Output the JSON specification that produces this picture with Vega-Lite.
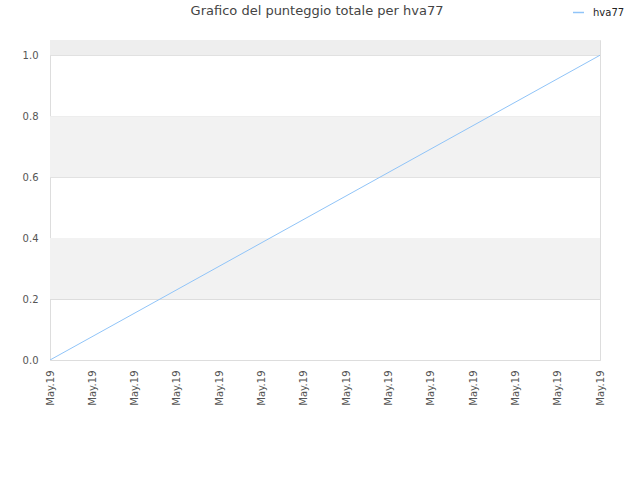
{
  "$schema": "https://vega.github.io/schema/vega-lite/v6.json",
  "width": 550,
  "height": 320,
  "autosize": {"type": "none"},
  "padding": {"left": 50, "top": 40, "right": 40, "bottom": 120},
  "title": {
    "text": "Grafico del punteggio totale per hva77",
    "fontSize": 13,
    "fontWeight": "normal",
    "font": "DejaVu Sans",
    "color": "#444444",
    "offset": 0,
    "dy": 12,
    "dx": -8
  },
  "config": {
    "font": "DejaVu Sans",
    "view": {"stroke": "#dddddd", "strokeWidth": 1},
    "axis": {
      "labelFont": "DejaVu Sans",
      "labelFontSize": 10,
      "labelColor": "#555555",
      "ticks": false,
      "domainColor": "#dddddd",
      "gridColor": "#dddddd"
    }
  },
  "datasets": {
    "bands": [
      {"lo": 0.2, "hi": 0.4},
      {"lo": 0.6, "hi": 0.8}
    ],
    "topband": [
      {"lo": 1.0, "hi": 1.05}
    ],
    "scores": [
      {"step": 0, "score": 0, "player": "hva77"},
      {"step": 13, "score": 1, "player": "hva77"}
    ]
  },
  "layer": [
    {
      "data": {"name": "bands"},
      "mark": {"type": "rect", "color": "#f2f2f2"},
      "encoding": {
        "y": {"field": "lo", "type": "quantitative", "scale": {"domain": [0, 1.05]}},
        "y2": {"field": "hi"}
      }
    },
    {
      "data": {"name": "topband"},
      "mark": {"type": "rect", "color": "#eeeeee"},
      "encoding": {
        "y": {"field": "lo", "type": "quantitative", "scale": {"domain": [0, 1.05]}},
        "y2": {"field": "hi"}
      }
    },
    {
      "data": {"name": "scores"},
      "mark": {"type": "line", "strokeWidth": 1, "clip": true},
      "encoding": {
        "x": {
          "field": "step",
          "type": "quantitative",
          "title": null,
          "scale": {"domain": [0, 13], "nice": false},
          "axis": {
            "values": [0, 1, 2, 3, 4, 5, 6, 7, 8, 9, 10, 11, 12, 13],
            "labelExpr": "'May.19'",
            "labelAngle": 270,
            "labelPadding": 10,
            "grid": false,
            "domain": false
          }
        },
        "y": {
          "field": "score",
          "type": "quantitative",
          "title": null,
          "scale": {"domain": [0, 1.05], "nice": false},
          "axis": {
            "values": [0, 0.2, 0.4, 0.6, 0.8, 1.0],
            "format": ".1f",
            "labelPadding": 12,
            "domain": false
          }
        },
        "color": {
          "field": "player",
          "type": "nominal",
          "scale": {"range": ["#90c4f8"]},
          "legend": {
            "title": null,
            "orient": "none",
            "legendX": 522,
            "legendY": -34,
            "symbolType": "stroke",
            "symbolSize": 120,
            "symbolStrokeWidth": 1.5,
            "labelFontSize": 10,
            "labelColor": "#222222",
            "labelFont": "DejaVu Sans",
            "labelOffset": 8
          }
        }
      }
    }
  ]
}
